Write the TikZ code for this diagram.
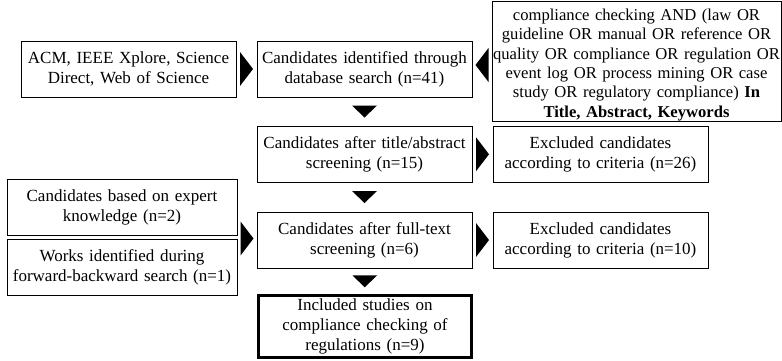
\documentclass[tikz,border=0pt]{standalone}
\usepackage{fontspec}
\setmainfont{Liberation Serif}
\usetikzlibrary{calc}

\tikzset{
  box/.style={draw, line width=1pt, align=center, text width=205pt,
    inner xsep=5pt, inner ysep=2pt, minimum height=56pt,
    font=\fontsize{17}{20}\selectfont},
  widebox/.style={box, text width=220pt},
  querybox/.style={box, text width=288pt, inner xsep=0.5pt, inner ysep=0pt,
    minimum height=120pt, font=\fontsize{16.6}{19.4}\selectfont},
  finalbox/.style={box, line width=3pt, text width=203pt, minimum height=62pt},
}

% filled triangles between two anchors
\newcommand{\rtri}[2]{\fill ($(#1)!0.5!(#2)$) ++(-6.5,-17) -- ++(13,17) -- ++(-13,17) -- cycle;}
\newcommand{\ltri}[2]{\fill ($(#1)!0.5!(#2)$) ++(6.5,-17) -- ++(-13,17) -- ++(13,17) -- cycle;}
\newcommand{\dtri}[2]{\fill ($(#1)!0.5!(#2)$) ++(-12.5,-6) -- ++(25,0) -- ++(-12.5,12) -- cycle;}

\def\M{364.5}
\def\R{600.5}

\begin{document}
\begin{tikzpicture}[x=1pt, y=-1pt]
  \useasboundingbox (0,0) rectangle (782,360);

  \node[box] (acm)   at (128.5, 69) {ACM, IEEE Xplore, Science\\Direct, Web of Science};
  \node[box] (ident) at (   \M, 69) {Candidates identified through\\database search (n=41)};
  \node[querybox] (query) at (636.5, 61) {\rule{0pt}{19pt}\mbox{compliance checking AND (law OR}\\
    \mbox{guideline OR manual OR reference OR}\\\mbox{quality OR compliance OR regulation OR}\\
    \mbox{event log OR process mining OR case}\\\mbox{study OR regulatory compliance) \textbf{In}}\\
    \textbf{Title, Abstract, Keywords}};

  \node[box] (title) at (\M, 154)   {Candidates after title/abstract\\screening (n=15)};
  \node[box] (excl1) at (\R, 154.5) {Excluded candidates\\according to criteria (n=26)};

  \node[widebox] (expert) at (122, 207) {Candidates based on expert\\knowledge (n=2)};
  \node[widebox] (works)  at (122, 267) {Works identified during\\forward-backward search (n=1)};
  \node[box] (full)  at (\M, 240) {Candidates after full-text\\screening (n=6)};
  \node[box] (excl2) at (\R, 240) {Excluded candidates\\according to criteria (n=10)};

  \node[finalbox] (incl) at (365, 326.5) {Included studies on\\compliance checking of\\regulations (n=9)};

  \coordinate (side) at ($(expert.south east)!0.5!(works.north east)$);

  \rtri{acm.east}{ident.west}
  \ltri{query.west}{ident.east}
  \dtri{ident.south}{title.north}
  \rtri{title.east}{excl1.west}
  \dtri{title.south}{full.north}
  \rtri{side}{full.west}
  \rtri{full.east}{excl2.west}
  \dtri{full.south}{incl.north}
\end{tikzpicture}
\end{document}
